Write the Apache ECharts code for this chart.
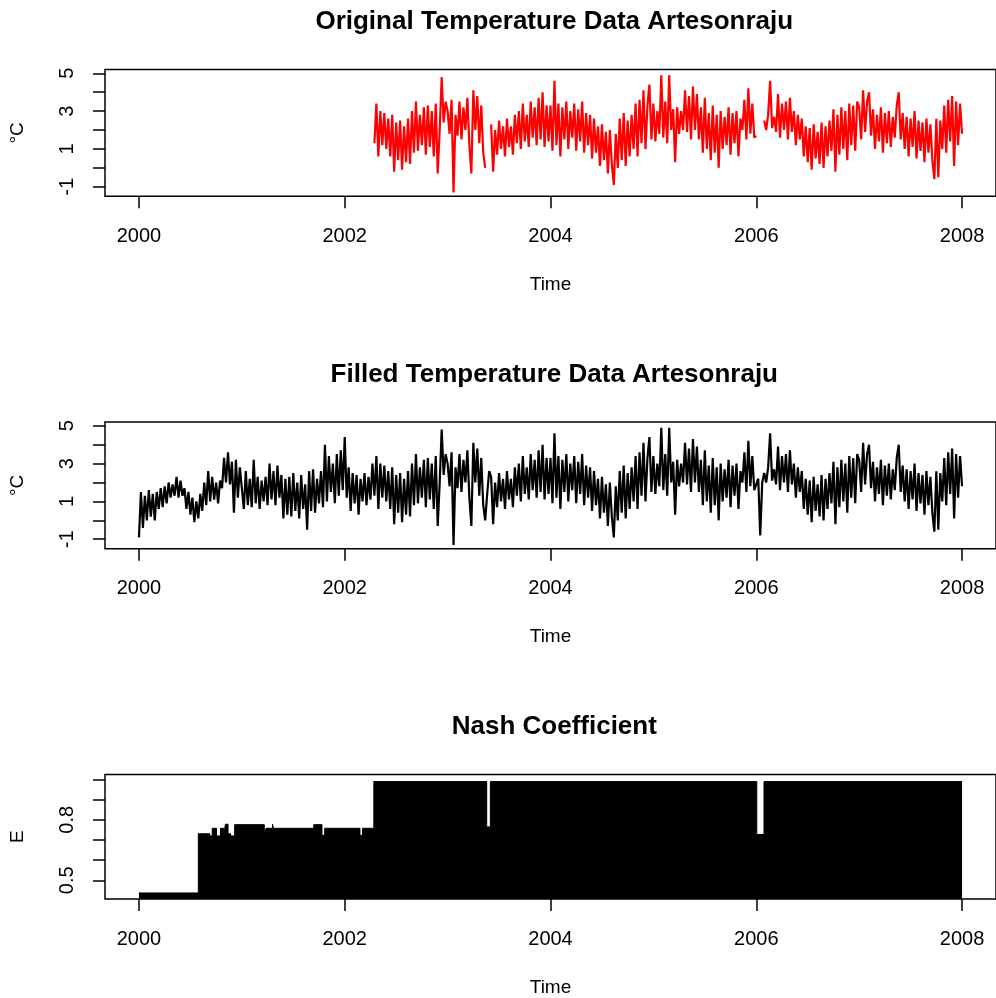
<!DOCTYPE html>
<html>
<head>
<meta charset="utf-8">
<script src="https://cdn.jsdelivr.net/npm/echarts@6/dist/echarts.min.js"></script>
<style>
  html, body { margin: 0; padding: 0; background: #fff; }
  #chart { width: 996px; height: 998px; }
</style>
</head>
<body>
<div id="chart"></div>
<script>
// Daily-average air temperature at Artesonraju, sampled weekly (52 values per year), °C
const years = [2000, 2001, 2002, 2003, 2004, 2005, 2006, 2007];
const temp2000 = [-0.9, 1.5, -0.4, 1.3, 0.0, 1.6, 0.2, 1.4, 0.0, 1.5, 0.6, 1.7,
  0.7, 1.8, 0.9, 2.0, 1.2, 1.9, 1.3, 2.3, 1.2, 2.1, 1.3, 1.7,
  0.6, 1.5, 0.3, 1.2, -0.1, 1.0, 0.1, 1.4, 0.5, 2.0, 0.8, 2.6,
  1.0, 2.3, 1.1, 2.0, 0.9, 2.1, 1.7, 3.3, 2.0, 3.6, 1.9, 3.1,
  0.4, 3.2, 1.2, 2.8];
const temp2001 = [2.9, 0.6, 2.6, 0.8, 2.2, 0.7, 3.2, 0.9, 2.3, 0.6, 2.1, 1.0,
  2.3, 0.8, 3.0, 1.1, 2.6, 0.8, 2.9, 1.2, 2.4, 0.1, 2.2, 0.3,
  2.3, 0.2, 2.5, 0.5, 2.0, 0.1, 2.4, 0.6, 1.9, -0.5, 2.6, 0.5,
  2.7, 0.4, 2.2, 0.9, 2.6, 0.7, 4.0, 1.0, 3.4, 1.5, 3.0, 0.9,
  3.5, 1.3, 3.7, 1.6];
const temp2002 = [4.4, 1.2, 2.8, 0.5, 2.5, 0.9, 2.4, 0.3, 2.2, 1.0, 2.5, 0.8,
  2.3, 1.1, 3.0, 1.3, 3.4, 0.6, 3.0, 1.2, 2.9, 1.0, 2.6, 0.6,
  2.8, -0.2, 2.4, 0.4, 2.5, -0.1, 2.2, 0.3, 2.6, 0.2, 3.0, 0.8,
  3.5, 0.9, 2.8, 1.2, 3.2, 0.7, 3.3, 1.1, 3.0, 0.6, 3.4, -0.3,
  2.0, 4.8, 2.4, 3.5];
const temp2003 = [3.0, 1.8, 3.6, -1.3, 2.8, 1.7, 3.5, 1.5, 3.2, 2.0, 3.7, 1.2,
  -0.3, 4.1, 2.0, 3.8, 1.3, 3.3, 0.8, 0.0, 1.4, 2.6, 2.3, -0.2,
  2.0, 0.7, 2.5, 1.0, 2.2, 0.6, 2.6, 1.1, 2.2, 0.7, 2.8, 1.3,
  3.0, 1.0, 3.4, 1.4, 2.8, 1.1, 3.5, 1.6, 3.2, 1.2, 3.7, 1.5,
  4.0, 1.1, 3.3, 1.4];
const temp2004 = [3.3, 0.9, 4.6, 1.2, 3.4, 0.6, 3.2, 1.5, 3.5, 1.0, 3.0, 1.6,
  3.4, 0.9, 3.1, 1.4, 3.5, 0.8, 2.9, 1.2, 2.8, 0.5, 2.6, 0.8,
  2.2, 0.1, 2.3, 0.4, 1.9, -0.3, 2.0, 0.2, -0.9, 1.8, 0.0, 2.6,
  0.4, 2.9, 0.1, 2.5, 0.6, 2.8, 1.0, 3.4, 0.6, 3.6, 1.3, 4.1,
  1.0, 3.3, 4.4, 1.5];
const temp2005 = [3.4, 1.4, 3.0, 1.8, 4.9, 1.6, 3.5, 1.3, 4.9, 2.0, 3.1, 0.3,
  3.2, 1.8, 3.0, 2.0, 4.1, 1.9, 3.8, 1.5, 4.3, 2.0, 3.9, 1.5,
  3.2, 0.8, 3.7, 1.0, 2.9, 0.4, 3.3, 0.8, 2.8, 0.0, 3.0, 1.0,
  2.7, 1.2, 3.2, 0.7, 2.9, 1.3, 3.0, 0.6, 2.6, 2.0, 3.6, 1.5,
  4.2, 1.8, 3.4, 1.6];
const temp2006 = [1.7, 2.2, -0.8, 2.0, 2.5, 2.0, 2.8, 4.6, 2.1, 2.7, 1.9, 3.9,
  1.6, 3.4, 2.0, 3.5, 1.5, 3.7, 1.9, 3.0, 1.2, 2.8, 1.5, 2.6,
  0.6, 2.2, 0.3, 2.1, -0.1, 2.3, 0.5, 1.9, 0.2, 2.4, 0.0, 2.2,
  0.6, 2.5, 0.9, 3.1, -0.2, 2.8, 0.7, 3.2, 1.0, 3.0, 0.4, 3.4,
  1.2, 3.3, 0.9, 3.5];
const temp2007 = [3.2, 1.5, 4.1, 1.9, 3.5, 4.0, 1.7, 3.1, 1.0, 2.8, 1.4, 3.2,
  0.8, 2.9, 1.3, 3.0, 1.1, 2.7, 1.6, 3.3, 4.0, 1.5, 2.9, 1.0,
  2.7, 0.6, 2.6, 1.1, 3.0, 0.5, 2.5, 0.9, 2.4, 0.3, 2.6, 0.8,
  2.3, 0.4, -0.6, 2.6, -0.5, 2.5, 1.0, 3.3, 0.8, 3.6, 1.4, 3.8,
  0.1, 3.5, 1.2, 3.4];
const temp2008 = [1.8];

// Periods covered by the station record itself (the rest is gap-filled)
const origStart = 2002.28;
const origGaps = [[2003.37, 2003.415], [2006.005, 2006.075]];

// Nash–Sutcliffe efficiency of the filling model, as a step function of time
const nashTime = [2000.000, 2000.577, 2000.689, 2000.712, 2000.754, 2000.792, 2000.824,
  2000.840, 2000.866, 2000.891, 2000.930, 2001.218, 2001.235, 2001.298, 2001.308,
  2001.699, 2001.779, 2001.805, 2002.148, 2002.173, 2002.283, 2003.380, 2003.415,
  2006.005, 2006.075, 2008.000];
const nashValue = [0.437, 0.731, 0.720, 0.758, 0.720, 0.758, 0.720,
  0.778, 0.731, 0.720, 0.776, 0.731, 0.758, 0.778, 0.758,
  0.776, 0.723, 0.758, 0.723, 0.758, 0.990, 0.765, 0.990,
  0.727, 0.990, 0.990];

// Axis ticks and labels
const yearTicks = [2000, 2002, 2004, 2006, 2008];
const tempTicks = [-1, 0, 1, 2, 3, 4, 5];
const tempLabels = [-1, 1, 3, 5];
const nashTicks = [0.5, 0.6, 0.7, 0.8, 0.9, 1.0];
const nashLabels = [0.5, 0.8];

// ---- build series ----
const perYear = [temp2000, temp2001, temp2002, temp2003, temp2004, temp2005, temp2006, temp2007];
const filled = [];
perYear.forEach((arr, k) => arr.forEach((v, i) => filled.push([years[k] + i / 52, v])));
filled.push([2008, temp2008[0]]);

const original = filled.map(([t, v]) => {
  const missing = t < origStart || origGaps.some(([a, b]) => t > a && t < b);
  return [t, missing ? '-' : v];
});

const nashData = nashTime.map((t, i) => [t, nashValue[i]]);

// ---- layout ----
const FONT = '"Liberation Sans", Arial, sans-serif';
const plotLeft = 104;
const plotWidth = 900.6;
const plotHeight = 126.7;
const panelTops = [69.5, 422, 774.5];
const xMin = 1999.67, xMax = 2008.33;

function grid(top) {
  return {
    left: plotLeft, top: top, width: plotWidth, height: plotHeight,
    show: true, borderColor: '#000', borderWidth: 1.5, backgroundColor: 'transparent',
    containLabel: false
  };
}

function xAxis(gridIndex) {
  return {
    type: 'value', gridIndex, min: xMin, max: xMax,
    axisLine: { show: false, onZero: false },
    splitLine: { show: false },
    axisTick: { show: true, inside: false, customValues: yearTicks, length: 12, lineStyle: { color: '#000', width: 1.5 } },
    axisLabel: {
      customValues: yearTicks, formatter: v => String(Math.round(v)),
      fontSize: 20, color: '#000', margin: 30, fontFamily: FONT
    },
    name: 'Time', nameLocation: 'middle', nameGap: 79,
    nameTextStyle: { fontSize: 19, color: '#000', fontFamily: FONT }
  };
}

function yAxis(gridIndex, min, max, ticks, labels, name) {
  return {
    type: 'value', gridIndex, min, max,
    axisLine: { show: false, onZero: false },
    splitLine: { show: false },
    axisTick: { show: true, inside: false, customValues: ticks, length: 12, lineStyle: { color: '#000', width: 1.5 } },
    axisLabel: {
      customValues: labels, rotate: 90, formatter: v => String(v),
      fontSize: 20, color: '#000', margin: 28, fontFamily: FONT
    },
    name, nameLocation: 'middle', nameGap: 78, nameRotate: 90,
    nameTextStyle: { fontSize: 19, color: '#000', fontFamily: FONT }
  };
}

function title(text, y) {
  return {
    type: 'text', x: plotLeft + plotWidth / 2, y,
    style: {
      text, fill: '#000', font: 'bold 26px ' + FONT,
      align: 'center', verticalAlign: 'middle'
    }
  };
}

// Temperature traces drawn as a dense line
function tempSeries(data, axisIndex, color) {
  return {
    type: 'line', xAxisIndex: axisIndex, yAxisIndex: axisIndex, data,
    showSymbol: false, connectNulls: false, sampling: 'none',
    lineStyle: { color, width: 2.2 },
    itemStyle: { color }
  };
}

const chart = echarts.init(document.getElementById('chart'), null, { renderer: 'canvas' });
chart.setOption({
  animation: false,
  backgroundColor: '#fff',
  graphic: [
    title('Original Temperature Data Artesonraju', 22),
    title('Filled Temperature Data Artesonraju', 375),
    title('Nash Coefficient', 727)
  ],
  grid: panelTops.map(grid),
  xAxis: [xAxis(0), xAxis(1), xAxis(2)],
  yAxis: [
    yAxis(0, -1.5, 5.2, tempTicks, tempLabels, '°C'),
    yAxis(1, -1.5, 5.2, tempTicks, tempLabels, '°C'),
    yAxis(2, 0.407, 1.025, nashTicks, nashLabels, 'E')
  ],
  series: [
    tempSeries(original, 0, '#ff0000'),
    tempSeries(filled, 1, '#000000'),
    {
      type: 'line', xAxisIndex: 2, yAxisIndex: 2, data: nashData,
      step: 'end', showSymbol: false,
      lineStyle: { color: '#000', width: 1 }, itemStyle: { color: '#000' },
      areaStyle: { color: '#000', opacity: 1, origin: 'start' }
    }
  ]
});
</script>
</body>
</html>
